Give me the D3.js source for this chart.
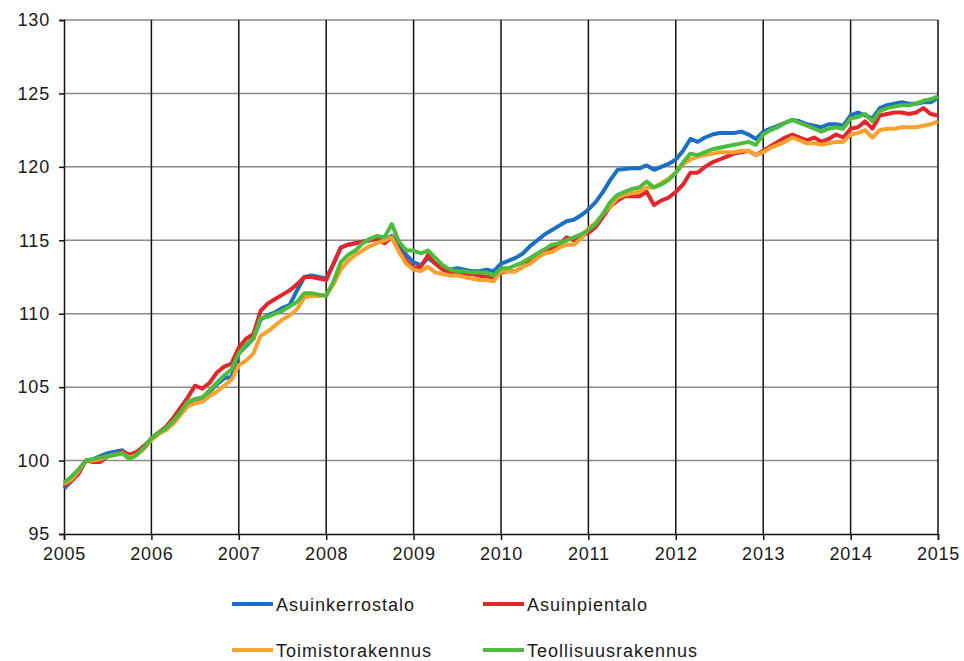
<!DOCTYPE html>
<html>
<head>
<meta charset="utf-8">
<script src="https://cdn.jsdelivr.net/npm/d3@7"></script>
<style>
  body { margin: 0; background: #fff; }
  svg { display: block; }
  text { font-family: "Liberation Sans", Arial, sans-serif; fill: #1a1a1a; }
</style>
</head>
<body>
<svg id="chart" width="964" height="661"></svg>
<script>
// Monthly index values, Jan 2005 .. Jan 2015
const startYear = 2005;
const yearTicks = [2005, 2006, 2007, 2008, 2009, 2010, 2011, 2012, 2013, 2014, 2015];
const valueTicks = [95, 100, 105, 110, 115, 120, 125, 130];
const seriesNames = ["Asuinkerrostalo", "Asuinpientalo", "Toimistorakennus", "Teollisuusrakennus"];
const seriesColors = ["#1c6fc4", "#e2262c", "#f7a12f", "#4dbb3b"];

const asuinkerrostalo = [
  98.1, 98.6, 99.2, 100.0, 100.1, 100.3, 100.5, 100.6, 100.7, 100.3, 100.5, 100.9,
  101.5, 101.9, 102.1, 102.6, 103.2, 103.9, 104.1, 104.2, 104.7, 105.2, 105.6, 105.7,
  107.3, 107.8, 108.3, 109.6, 109.9, 110.1, 110.4, 110.6, 111.6, 112.5, 112.6, 112.5,
  112.4, 113.4, 114.5, 114.7, 114.8, 114.9, 115.0, 115.1, 115.0, 115.3, 114.7, 114.0,
  113.5, 113.3, 113.8, 113.4, 113.1, 113.0, 113.1, 113.0, 112.9, 112.9, 113.0, 112.9,
  113.4, 113.6, 113.8, 114.1, 114.6, 115.0, 115.4, 115.7, 116.0, 116.3, 116.4, 116.7,
  117.1, 117.6, 118.3, 119.1, 119.8, 119.85, 119.9, 119.9, 120.1, 119.8, 120.0, 120.2,
  120.5, 121.1, 121.9, 121.7, 122.0, 122.2, 122.3, 122.3, 122.3, 122.4, 122.2, 121.9,
  122.4, 122.6, 122.8, 123.0, 123.2, 123.1, 122.9, 122.8, 122.7, 122.9, 122.9, 122.8,
  123.5, 123.7, 123.5, 123.3, 124.0, 124.2, 124.3, 124.4, 124.3, 124.3, 124.4, 124.4,
  124.7
];
const asuinpientalo = [
  98.3, 98.6, 99.1, 100.0, 99.9, 99.9, 100.3, 100.4, 100.6, 100.4, 100.6, 101.0,
  101.5, 101.9, 102.3, 102.9, 103.6, 104.3, 105.1, 104.9, 105.3, 106.0, 106.4, 106.6,
  107.7, 108.3, 108.6, 110.2, 110.7, 111.0, 111.3, 111.6, 112.0, 112.5, 112.5, 112.4,
  112.3, 113.4, 114.5, 114.7, 114.8, 114.9, 115.0, 115.1, 114.8, 115.2, 114.3, 113.6,
  113.1, 113.2, 114.0, 113.4, 113.0, 112.8, 112.8, 112.7, 112.7, 112.6, 112.5, 112.5,
  112.8, 112.9, 112.9, 113.2, 113.6, 113.9, 114.2, 114.4, 114.7, 115.2, 115.0, 115.3,
  115.5, 115.9, 116.6, 117.3, 117.7, 118.0, 118.0, 118.0, 118.3, 117.4, 117.7, 117.9,
  118.3, 118.8, 119.6, 119.6, 120.0, 120.3, 120.5, 120.7, 120.9, 121.0, 121.1, 120.8,
  121.1, 121.4, 121.7, 122.0, 122.2, 122.0, 121.8, 122.0, 121.7, 121.9, 122.2, 122.0,
  122.6, 122.7, 123.1, 122.6, 123.5, 123.6, 123.7, 123.7, 123.6, 123.7, 124.0, 123.6,
  123.5
];
const toimistorakennus = [
  98.4, 98.7, 99.3, 100.0, 100.0, 100.1, 100.3, 100.4, 100.5, 100.2, 100.4, 100.8,
  101.4, 101.8, 102.1, 102.5, 103.1, 103.7, 103.9, 104.0, 104.4, 104.7, 105.1, 105.5,
  106.5, 106.8, 107.3, 108.5, 108.8, 109.2, 109.6, 109.9, 110.3, 111.1, 111.2, 111.2,
  111.3, 112.0, 113.0, 113.6, 114.0, 114.3, 114.6, 114.8, 115.0, 115.2, 114.2, 113.4,
  113.0, 112.9, 113.2, 112.8, 112.7, 112.6, 112.6, 112.5, 112.4, 112.3, 112.3, 112.2,
  112.9, 112.9, 112.9, 113.2, 113.4, 113.8, 114.1, 114.2, 114.5, 114.7, 114.7, 115.1,
  115.8, 116.2, 116.8, 117.3, 117.9, 118.1, 118.2, 118.3, 118.6, 118.6, 118.9, 119.2,
  119.6, 120.2, 120.5, 120.7, 120.8, 120.9, 121.0, 121.0, 121.0, 121.1, 121.1, 120.8,
  121.0, 121.3, 121.5, 121.7, 122.0, 121.8, 121.6, 121.6, 121.5, 121.6, 121.7, 121.7,
  122.2, 122.3, 122.5, 122.0, 122.5, 122.6, 122.6, 122.7, 122.7, 122.7, 122.8, 122.9,
  123.1
];
const teollisuusrakennus = [
  98.5, 98.9, 99.4, 100.0, 100.1, 100.2, 100.3, 100.4, 100.5, 100.1, 100.4, 100.9,
  101.5, 101.9, 102.2, 102.7, 103.3, 104.0, 104.2, 104.3, 104.8, 105.3, 105.8, 106.2,
  107.3, 107.9, 108.3, 109.7, 109.8, 110.0, 110.2, 110.5, 110.8, 111.4, 111.4, 111.3,
  111.2, 112.2, 113.5, 114.0, 114.3, 114.8, 115.1, 115.3, 115.2, 116.1, 114.9, 114.3,
  114.3, 114.1, 114.3, 113.8, 113.3, 113.0, 112.9, 112.9, 112.8, 112.8, 112.8, 112.6,
  113.1, 113.1, 113.3, 113.5, 113.8, 114.1, 114.4, 114.7, 114.8, 115.0, 115.2, 115.4,
  115.7, 116.1, 116.8, 117.6, 118.1, 118.3, 118.5, 118.6, 119.0, 118.6, 118.8, 119.1,
  119.6, 120.3, 120.9, 120.8, 121.0, 121.2, 121.3, 121.4, 121.5, 121.6, 121.7, 121.5,
  122.2, 122.5, 122.7, 123.0, 123.2, 123.0, 122.8, 122.6, 122.4, 122.6, 122.7, 122.6,
  123.3, 123.4, 123.6, 123.1, 123.8, 124.0, 124.1, 124.2, 124.2, 124.3, 124.5, 124.6,
  124.8
];
const seriesValues = [asuinkerrostalo, asuinpientalo, toimistorakennus, teollisuusrakennus];

const svg = d3.select("#chart");
const m = { left: 64, right: 938, top: 20, bottom: 534 };
const fontFam = '"Liberation Sans", Arial, sans-serif';

const x = d3.scaleLinear().domain([2005, 2015]).range([m.left, m.right]);
const y = d3.scaleLinear().domain([95, 130]).range([m.bottom, m.top]);

// horizontal grid
svg.append("g").selectAll("line").data(valueTicks.filter(v => v > 95)).join("line")
  .attr("x1", m.left).attr("x2", m.right)
  .attr("y1", d => y(d)).attr("y2", d => y(d))
  .attr("stroke", "#8a8a8a").attr("stroke-width", 1.5);

// vertical grid (black)
svg.append("g").selectAll("line").data(yearTicks.slice(1)).join("line")
  .attr("x1", d => x(d)).attr("x2", d => x(d))
  .attr("y1", m.top).attr("y2", m.bottom)
  .attr("stroke", "#111").attr("stroke-width", 1.5);

// y axis
const yAxis = d3.axisLeft(y).tickValues(valueTicks).tickSize(5).tickPadding(9);
const gy = svg.append("g").attr("transform", `translate(${m.left},0)`).call(yAxis);
gy.select(".domain").attr("stroke", "#111").attr("stroke-width", 1.5);
gy.selectAll(".tick line").attr("stroke", "#111").attr("stroke-width", 1.5);
gy.selectAll("text").style("font-size", "18px").style("letter-spacing", "0.8px")
  .attr("fill", "#1a1a1a").style("font-family", fontFam);

// x axis
const xAxis = d3.axisBottom(x).tickValues(yearTicks).tickFormat(d3.format("d")).tickSize(6).tickPadding(7);
const gx = svg.append("g").attr("transform", `translate(0,${m.bottom})`).call(xAxis);
gx.select(".domain").attr("stroke", "#111").attr("stroke-width", 1.5);
gx.selectAll(".tick line").attr("stroke", "#111").attr("stroke-width", 1.5);
gx.selectAll("text").style("font-size", "18px").style("letter-spacing", "0.8px")
  .attr("fill", "#1a1a1a").style("font-family", fontFam);

// lines
const line = d3.line().x((d, i) => x(startYear + i / 12)).y(d => y(d)).curve(d3.curveLinear);
seriesValues.forEach((vals, k) => {
  svg.append("path").datum(vals)
    .attr("fill", "none")
    .attr("stroke", seriesColors[k])
    .attr("stroke-width", 4)
    .attr("stroke-linejoin", "round")
    .attr("d", line);
});

// legend
const legendPos = [[232, 604], [483, 604], [232, 650], [483, 650]];
seriesNames.forEach((name, k) => {
  const [lx, ly] = legendPos[k];
  svg.append("line").attr("x1", lx).attr("x2", lx + 41).attr("y1", ly).attr("y2", ly)
    .attr("stroke", seriesColors[k]).attr("stroke-width", 4);
  svg.append("text").attr("x", lx + 44).attr("y", ly + 6.5)
    .style("font-size", "18px").style("letter-spacing", "1px").text(name);
});
</script>
</body>
</html>
